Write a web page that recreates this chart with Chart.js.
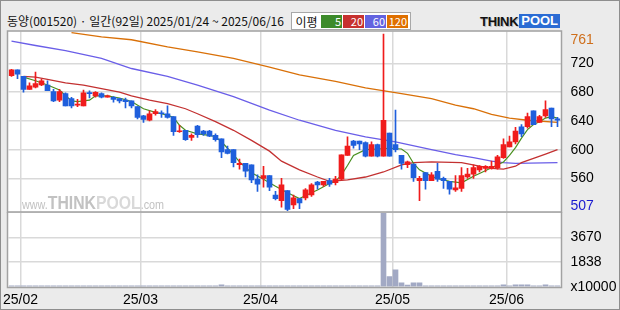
<!DOCTYPE html>
<html>
<head>
<meta charset="utf-8">
<script src="https://cdn.jsdelivr.net/npm/chart.js@4.4.1/dist/chart.umd.min.js"></script>
<style>
  html, body { margin: 0; padding: 0; }
  body { width: 620px; height: 310px; background: #ebebeb; position: relative; overflow: hidden;
         font-family: "Noto Sans CJK KR", sans-serif; }
  #outline { position: absolute; left: 0; top: 0; width: 618px; height: 308px; border: 1px solid #8e8e8e; z-index: 5; pointer-events: none; }
  #title { position: absolute; left: 7px; top: 13px; font-size: 12px; line-height: 16px; color: #111; white-space: nowrap; }
  #legend { position: absolute; left: 291px; top: 12px; width: 118px; height: 16px; background: #fff; border: 1px solid #a8a8a8;
            display: flex; align-items: center; font-size: 12px; }
  #legend .lbl { width: 29px; text-align: center; color: #111; }
  #legend .c { width: 21px; height: 13px; margin-right: 1px; color: #fff; font-size: 11px; line-height: 13px; text-align: right; padding-right: 1px; box-sizing: border-box; }
  #logo { position: absolute; left: 480px; top: 14px; height: 14px; display: flex; align-items: center; font-family: "Liberation Sans", sans-serif; font-weight: bold; }
  #logo .t { color: #111; font-size: 13px; letter-spacing: -0.3px; text-shadow: 1px 1px 0 #bbb; }
  #logo .p { background: #2b6cd4; color: #fff; font-size: 13px; padding: 0 2px; margin-left: 1px; height: 14px; line-height: 14px; }
  #wm { position: absolute; left: 22px; top: 192px; color: #c2c2c2; font-family: "Liberation Sans", sans-serif; white-space: nowrap; z-index: 3;
        transform: scaleX(0.83); transform-origin: left center; }
  #wm .s { font-size: 13px; }
  #wm .b { font-size: 19px; font-weight: bold; }
  #wm .p { font-size: 19px; font-weight: bold; color: #d9d9d9; }
  canvas { position: absolute; left: 0; }
  #price { top: 0; }
  #vol { top: 212px; }
</style>
</head>
<body>
<div id="outline"></div>
<div id="title">동양(001520) · 일간(92일) 2025/01/24 ~ 2025/06/16</div>
<div id="legend"><span class="lbl">이평</span>
  <span class="c" style="background:#3d8b2b">5</span>
  <span class="c" style="background:#c7312f">20</span>
  <span class="c" style="background:#6363e0">60</span>
  <span class="c" style="background:#df7000">120</span>
</div>
<div id="logo"><span class="t">THINK</span><span class="p">POOL</span></div>
<div id="wm"><span class="s">www.</span><span class="b">THINK</span><span class="p">POOL</span><span class="s">.com</span></div>
<canvas id="price" width="620" height="213"></canvas>
<canvas id="vol" width="620" height="98"></canvas>
<script>
// trading days 2025/01/24 ~ 2025/06/16
var dates = ["01/24","01/31",
  "02/03","02/04","02/05","02/06","02/07","02/10","02/11","02/12","02/13","02/14","02/17","02/18","02/19","02/20","02/21","02/24","02/25","02/26","02/27","02/28",
  "03/04","03/05","03/06","03/07","03/10","03/11","03/12","03/13","03/14","03/17","03/18","03/19","03/20","03/21","03/24","03/25","03/26","03/27","03/28","03/31",
  "04/01","04/02","04/03","04/04","04/07","04/08","04/09","04/10","04/11","04/14","04/15","04/16","04/17","04/18","04/21","04/22","04/23","04/24","04/25","04/28","04/29","04/30",
  "05/02","05/07","05/08","05/09","05/12","05/13","05/14","05/15","05/16","05/19","05/20","05/21","05/22","05/23","05/26","05/27","05/28","05/29","05/30",
  "06/02","06/04","06/05","06/09","06/10","06/11","06/12","06/13","06/16"];

var opens  = [703,711,702,684,687,690,690,681,669,678,671,662,661,679,675,678,673,673,671,669,668,660,647,641,650,651,650,646,625,627,
              617,633,626,626,620,615,600,600,579,581,579,559,560,564,537,529,543,523,532,533,537,555,551,557,554,559,592,612,612,610,
              591,607,591,623,607,592,579,580,557,568,557,570,560,556,544,546,562,566,572,574,574,575,589,604,611,632,632,654,638,647,
              658,643];
var highs  = [712,711,702,693,708,698,696,684,684,679,673,670,683,682,681,679,676,674,671,672,668,660,648,654,656,654,661,646,634,627,
              622,634,627,627,622,615,605,600,587,581,579,565,577,564,542,560,543,537,532,546,553,556,556,560,563,593,618,613,612,611,
              611,608,761,623,655,592,584,580,563,568,568,581,562,556,564,575,574,579,578,578,584,592,615,619,631,635,651,654,648,668,
              658,645];
var lows   = [702,699,680,684,686,689,682,667,667,661,658,660,661,672,673,672,673,666,665,658,658,643,638,640,648,645,644,620,624,613,
              613,617,620,618,612,589,594,576,573,562,554,542,548,543,530,520,515,518,518,530,535,545,549,549,551,558,592,602,600,590,
              591,590,591,591,597,573,575,556,529,545,557,556,546,538,542,542,560,560,569,569,573,573,588,604,608,618,630,635,638,645,
              632,632];
var closes = [711,705,684,689,692,696,682,668,681,661,661,663,679,678,680,673,675,670,668,667,661,645,642,650,653,650,645,625,626,614,
              620,621,622,619,614,597,595,582,581,570,558,552,564,548,532,551,517,533,526,544,551,551,556,552,559,593,605,606,608,591,
              607,591,641,591,600,581,583,561,560,557,565,559,557,545,547,564,566,575,577,577,577,590,607,611,626,622,646,635,646,656,
              643,641];
// volume, unit x10000 shares
var volumes = [95,95,95,95,95,95,95,95,95,95,95,95,95,95,95,95,95,95,95,95,95,95,95,95,95,95,95,95,95,95,
               95,95,95,95,95,160,95,95,95,95,95,95,95,95,95,95,95,95,95,95,95,95,95,95,95,95,95,95,95,95,
               95,95,5440,770,1265,300,150,300,300,95,95,95,95,95,95,95,95,95,95,95,95,95,160,95,160,160,160,95,95,160,
               95,95];
// moving averages: [day index, price]
var ma5 = [[2,701],[4,696],[6,690],[8,683],[10,668],[11,667],[13,669],[14,675],[16,675],[18,672],[20,667],[22,657],[24,652],
           [26,648],[27,645],[28,634],[29,627],[31,622],[33,620],[34,618],[35,611],[36,602],[37,593],[38,583],[40,568],[42,559],
           [44,549],[46,540],[48,532],[50,540],[51,544],[53,553],[54,556],[55,565],[56,578],[57,592],[59,600],[61,601],[63,602],
           [65,601],[66,595],[67,581],[68,572],[70,563],[71,560],[73,556],[75,554],[77,563],[78,567],[80,575],[82,583],[83,592],
           [84,603],[85,616],[86,628],[87,635],[88,639],[89,644],[90,646],[91,644]];
var ma20 = [[2,702],[4,701],[6,698],[9,693],[12,690],[15,685],[18,680],[20,675],[23,669],[26,664],[29,657],[31,650],[34,639],
            [37,627],[40,613],[43,598],[45,584],[48,572],[51,562],[53,556],[56,558],[59,562],[62,569],[65,579],[67,582],[70,583],
            [75,582],[78,577],[80,574],[82,573],[84,577],[85,582],[87,588],[89,594],[91,600]];
var ma60 = [[0,751],[4,745],[9,738],[15,727],[20,713],[26,702],[31,690],[37,674],[43,655],[48,641],[54,627],[59,618],[64,611],
            [70,600],[74,593],[77,589],[80,584],[82,582],[84,581],[91,582]];
var ma120 = [[10,763],[15,757],[20,753],[26,743],[31,736],[37,727],[43,715],[48,704],[54,695],[59,686],[65,678],[70,671],
             [74,662],[77,657],[80,649],[83,644],[86,641],[91,638]];
var priceTicks = [560, 600, 640, 680, 720];
var volTicks = [0, 1838, 3670];

var UP = "#f01c1c", DOWN = "#1f5fdc", GRID = "#d9d9d9";
var tickFont = { family: "'Liberation Sans Narrow', 'Liberation Sans', sans-serif", size: 14 };

function monthStart(i) {
  return i > 0 && dates[i] && dates[i].slice(0, 2) !== dates[i - 1].slice(0, 2);
}
function pts(list) {
  return list.map(function (p) { return { x: dates[p[0]], y: p[1] }; });
}
function candleColor(c) {
  var i = c.dataIndex;
  return closes[i] >= opens[i] ? UP : DOWN;
}
// no automatic label padding, the layout padding places the plot area
function noPad(s) { s.paddingTop = 0; s.paddingBottom = 0; s.paddingLeft = 0; s.paddingRight = 0; }
var xGrid = {
  offset: true, drawTicks: false, lineWidth: 1.5,
  color: function (c) { return monthStart(c.index) ? GRID : "rgba(0,0,0,0)"; }
};

var frame = {
  id: "frame",
  beforeDraw: function (chart) {
    var a = chart.chartArea, ctx = chart.ctx;
    ctx.save();
    ctx.fillStyle = "#fff";
    ctx.fillRect(a.left - 1, a.top, a.width + 2, a.height);
    ctx.restore();
  },
  afterDraw: function (chart) {
    var a = chart.chartArea, ctx = chart.ctx;
    ctx.save();
    ctx.strokeStyle = "#a2a2a2";
    ctx.lineWidth = 1.5;
    ctx.strokeRect(a.left - 1, a.top - 0.5, a.width + 2, a.height + 1);
    ctx.restore();
  }
};
var rangeLabels = {
  id: "rangeLabels",
  afterDraw: function (chart) {
    var a = chart.chartArea, ctx = chart.ctx;
    ctx.save();
    ctx.font = "14px 'Liberation Sans Narrow', 'Liberation Sans', sans-serif";
    ctx.textAlign = "left";
    ctx.textBaseline = "top";
    ctx.fillStyle = "#cf6f1c";
    ctx.fillText("761", a.right + 10, a.top + 1.5);
    ctx.textBaseline = "alphabetic";
    ctx.fillStyle = "#1a1ad0";
    ctx.fillText("507", a.right + 10, a.bottom - 1.5);
    ctx.restore();
  }
};

new Chart(document.getElementById("price"), {
  type: "bar",
  data: {
    labels: dates,
    datasets: [
      { data: dates.map(function (d, i) { return [opens[i], closes[i]]; }), backgroundColor: candleColor,
        barThickness: 5, grouped: false, minBarLength: 1, order: 0 },
      { data: dates.map(function (d, i) { return [lows[i], highs[i]]; }), backgroundColor: candleColor,
        barThickness: 1, grouped: false, order: 1 },
      { type: "line", data: pts(ma5), borderColor: "#4a9020", borderWidth: 1.2, pointRadius: 0, spanGaps: true, order: 2 },
      { type: "line", data: pts(ma20), borderColor: "#c33131", borderWidth: 1.3, pointRadius: 0, spanGaps: true, order: 3 },
      { type: "line", data: pts(ma60), borderColor: "#6a5ee8", borderWidth: 1.3, pointRadius: 0, spanGaps: true, order: 4 },
      { type: "line", data: pts(ma120), borderColor: "#d97008", borderWidth: 1.3, pointRadius: 0, spanGaps: true, order: 5 }
    ]
  },
  options: {
    responsive: false, animation: false,
    layout: { padding: { left: 8.5, top: 31.5, right: 0, bottom: 1.5 } },
    plugins: { legend: { display: false }, tooltip: { enabled: false } },
    scales: {
      x: { offset: true, grid: xGrid, border: { display: false }, ticks: { display: false },
           afterFit: function (s) { s.height = 0; noPad(s); } },
      y: { position: "right", min: 514, max: 764.5,
           afterBuildTicks: function (s) { s.ticks = priceTicks.map(function (v) { return { value: v }; }); },
           afterFit: function (s) { s.width = 59.5; noPad(s); },
           grid: { color: GRID, lineWidth: 1.5, drawTicks: false }, border: { display: false },
           ticks: { color: "#000", font: tickFont, padding: 10 } }
    }
  },
  plugins: [frame, rangeLabels]
});

new Chart(document.getElementById("vol"), {
  type: "bar",
  data: {
    labels: dates,
    datasets: [{ data: volumes, backgroundColor: "#a2a9c4", barThickness: 5 }]
  },
  options: {
    responsive: false, animation: false,
    layout: { padding: { left: 8.5, top: 0.5, right: 0, bottom: 0 } },
    plugins: { legend: { display: false }, tooltip: { enabled: false } },
    scales: {
      x: { offset: true, grid: xGrid, border: { display: false },
           ticks: { autoSkip: false, maxRotation: 0, color: "#000", font: tickFont, padding: 5, labelOffset: -3,
                    callback: function (v, i) { return monthStart(i) ? "25/" + dates[i].slice(0, 2) : ""; } },
           afterFit: function (s) { s.height = 23; noPad(s); } },
      y: { position: "right", min: 0, max: 5510,
           afterBuildTicks: function (s) { s.ticks = volTicks.map(function (v) { return { value: v }; }); },
           afterFit: function (s) { s.width = 59.5; noPad(s); },
           grid: { drawTicks: false, lineWidth: 1.5,
                   color: function (c) { return c.tick && c.tick.value === 0 ? "rgba(0,0,0,0)" : GRID; } },
           border: { display: false },
           ticks: { color: "#000", font: tickFont, padding: 10,
                    callback: function (v) { return v === 0 ? "x10000" : v; } } }
    }
  },
  plugins: [frame]
});
</script>
</body>
</html>
